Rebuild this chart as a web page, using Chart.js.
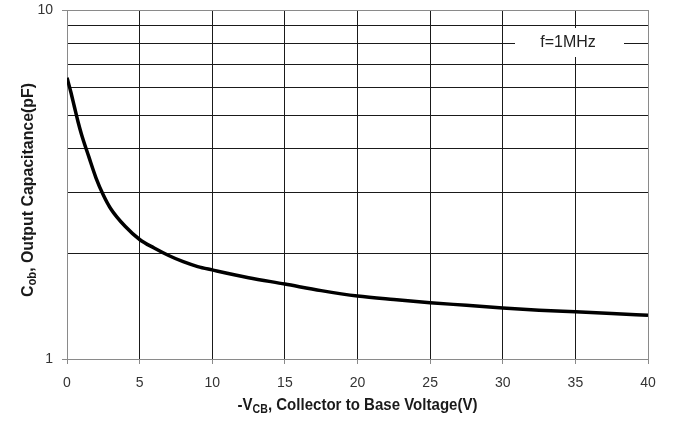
<!DOCTYPE html>
<html>
<head>
<meta charset="utf-8">
<script src="https://cdn.jsdelivr.net/npm/chart.js@4/dist/chart.umd.min.js"></script>
<style>
  html, body { margin: 0; padding: 0; background: #fff; }
  #wrap { width: 675px; height: 421px; }
</style>
</head>
<body>
<div id="wrap"><canvas id="c" width="675" height="421"></canvas></div>
<script>
// Data
const vcb = [0, 0.25, 0.5, 0.75, 1, 1.5, 2, 2.5, 3, 4, 5, 6, 7, 8, 9, 10, 12.5, 15, 17.5, 20, 22.5, 25, 27.5, 30, 32.5, 35, 37.5, 40];
const cob = [6.4, 5.85, 5.3, 4.8, 4.4, 3.8, 3.3, 2.95, 2.7, 2.4, 2.2, 2.08, 1.98, 1.9, 1.84, 1.8, 1.71, 1.64, 1.57, 1.515, 1.48, 1.45, 1.425, 1.4, 1.38, 1.365, 1.35, 1.334];
const xTicks = [0, 5, 10, 15, 20, 25, 30, 35, 40];
const yTicks = [1, 2, 3, 4, 5, 6, 7, 8, 9, 10];
const yLabelled = [1, 10];
const seriesName = "f=1MHz";

const FONT = "'Liberation Sans', Arial, sans-serif";

const titlePlugin = {
  id: 'titles',
  afterDraw(chart) {
    const ctx = chart.ctx;
    const a = chart.chartArea;
    // draw text runs centred at (0,0) baseline, squeezed to a target width
    function runs(parts, targetW) {
      const big = 'bold 17px ' + FONT;
      const small = 'bold 12px ' + FONT;
      let total = 0;
      parts.forEach(p => { ctx.font = p[1] ? small : big; total += ctx.measureText(p[0]).width; });
      const sx = targetW / total;
      ctx.scale(sx, 1);
      let cx = -total / 2;
      ctx.textBaseline = 'alphabetic';
      ctx.textAlign = 'left';
      parts.forEach(p => {
        ctx.font = p[1] ? small : big;
        ctx.fillText(p[0], cx, p[1] ? 3 : 0);
        cx += ctx.measureText(p[0]).width;
      });
    }
    ctx.save();
    ctx.fillStyle = '#1a1a1a';
    ctx.translate((a.left + a.right) / 2, 410);
    runs([['-V', false], ['CB', true], [', Collector to Base Voltage(V)', false]], 240);
    ctx.restore();

    ctx.save();
    ctx.fillStyle = '#1a1a1a';
    ctx.translate(33, 190);
    ctx.rotate(-Math.PI / 2);
    runs([['C', false], ['ob', true], [', Output Capacitance(pF)', false]], 214);
    ctx.restore();

    // legend box
    ctx.save();
    ctx.fillStyle = '#ffffff';
    ctx.fillRect(a.right - 133, a.top + 18, 109, 29);
    ctx.fillStyle = '#222';
    ctx.font = '16px ' + FONT;
    ctx.textAlign = 'center';
    ctx.textBaseline = 'middle';
    ctx.fillText(seriesName, a.right - 80, a.top + 33);
    ctx.restore();
  }
};

new Chart(document.getElementById('c'), {
  type: 'line',
  data: {
    datasets: [{
      label: seriesName,
      data: vcb.map((v, i) => ({ x: v, y: cob[i] })),
      borderColor: '#000',
      borderWidth: 3.5,
      pointRadius: 0,
      fill: false,
      cubicInterpolationMode: 'monotone'
    }]
  },
  options: {
    responsive: false,
    animation: false,
    layout: { padding: { top: 10, right: 27, left: 0, bottom: 0 } },
    plugins: { legend: { display: false }, tooltip: { enabled: false } },
    scales: {
      x: {
        type: 'linear',
        min: 0, max: 40,
        afterBuildTicks: s => { s.ticks = xTicks.map(v => ({ value: v })); },
        afterFit: s => { s.height = 62; s.paddingLeft = 0; s.paddingRight = 0; },
        ticks: { color: '#333', font: { family: FONT, size: 14 }, padding: 11, maxRotation: 0 },
        grid: {
          color: ctx => (ctx.tick && (ctx.tick.value === 0 || ctx.tick.value === 40)) ? '#8a8a8a' : '#1a1a1a',
          tickColor: '#8a8a8a',
          tickLength: 5,
          lineWidth: 1
        },
        border: { color: '#8a8a8a', width: 1 }
      },
      y: {
        type: 'logarithmic',
        min: 1, max: 10,
        afterBuildTicks: s => { s.ticks = yTicks.map(v => ({ value: v, major: yLabelled.includes(v) })); },
        afterFit: s => { s.width = 67; s.paddingTop = 0; s.paddingBottom = 0; },
        ticks: {
          color: '#333', font: { family: FONT, size: 14 }, padding: 9,
          autoSkip: false,
          callback: v => yLabelled.includes(v) ? String(v) : ''
        },
        grid: {
          color: ctx => (ctx.tick && (ctx.tick.value === 1 || ctx.tick.value === 10)) ? '#8a8a8a' : '#1a1a1a',
          tickColor: ctx => (ctx.tick && yLabelled.includes(ctx.tick.value)) ? '#8a8a8a' : 'rgba(0,0,0,0)',
          tickLength: 5,
          lineWidth: 1
        },
        border: { color: '#8a8a8a', width: 1 }
      }
    }
  },
  plugins: [titlePlugin]
});
</script>
</body>
</html>
